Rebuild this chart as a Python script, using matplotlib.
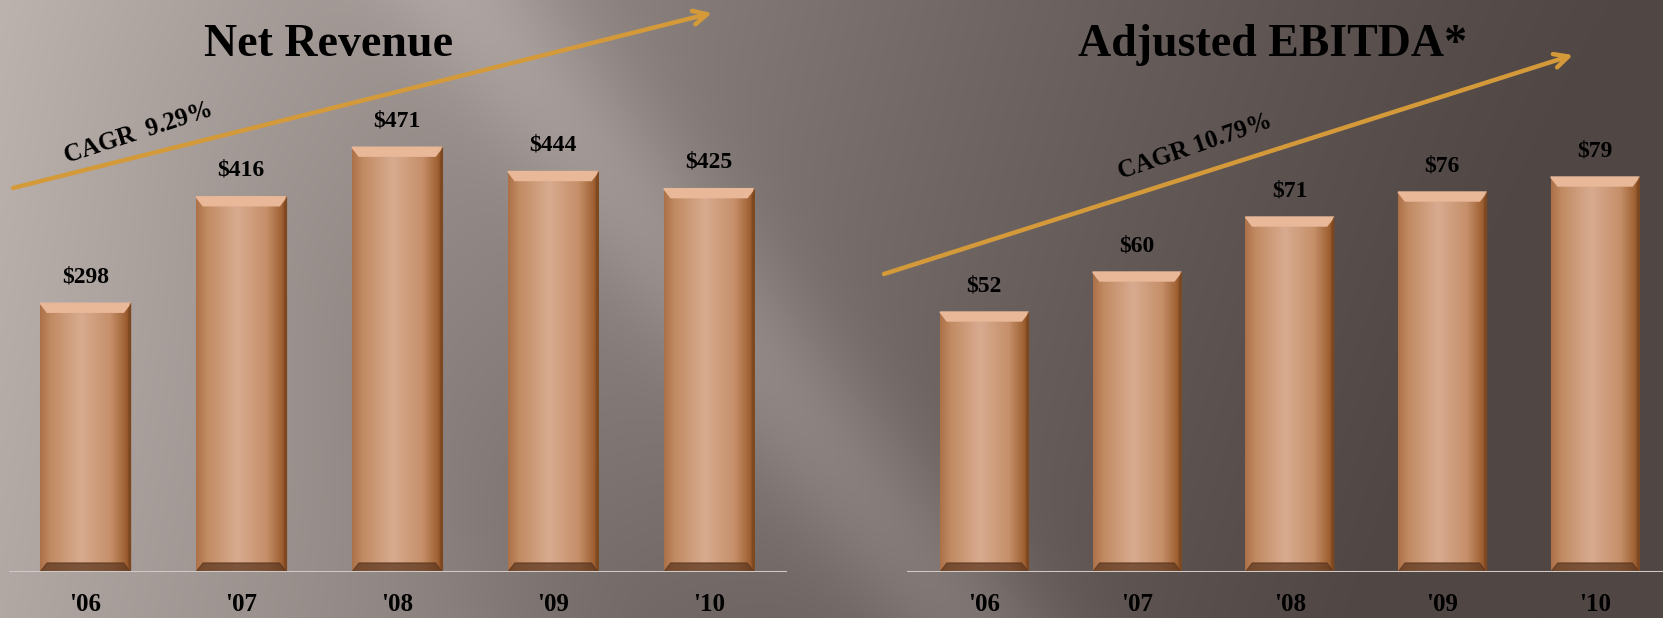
import numpy as np
import matplotlib.pyplot as plt
from matplotlib.patches import Polygon
from matplotlib.colors import LinearSegmentedColormap

# data
years = ["'06", "'07", "'08", "'09", "'10"]
net_revenue = [298, 416, 471, 444, 425]
adj_ebitda = [52, 60, 71, 76, 79]
revenue_labels = ['$298', '$416', '$471', '$444', '$425']
ebitda_labels = ['$52', '$60', '$71', '$76', '$79']
cagr_revenue = 'CAGR  9.29%'
cagr_ebitda = 'CAGR 10.79%'

W, H = 1663, 618
FONT = 'Liberation Serif'

fig = plt.figure(figsize=(W / 100, H / 100), dpi=100)


def fx(px):
    return px / W


def fy(py):
    return 1 - py / H


# background gradient with a light diagonal streak
ax_bg = fig.add_axes([0, 0, 1, 1])
ax_bg.axis('off')
xx, yy = np.meshgrid(np.arange(W), np.arange(H))
light = np.array([188, 178, 174])
dark = np.array([80, 71, 69])
f = np.clip(1 - xx / W, 0, 1) ** 1.35 - 0.1 * yy / H
f = np.clip(f, 0, 1)
img = dark + (light - dark) * f[..., None]
# streak
x0, y0, dx, dy = 470, 0, 400, 500
d = ((xx - x0) * dy - (yy - y0) * dx) / np.hypot(dx, dy)
img += 24 * np.exp(-(d / 75) ** 2)[..., None]
img -= 10 * np.exp(-((d + 260) / 120) ** 2)[..., None] * (yy / H)[..., None]
ax_bg.imshow(np.clip(img, 0, 255).astype(np.uint8), extent=(0, W, 0, H), aspect='auto')
ax_bg.set_xlim(0, W)
ax_bg.set_ylim(0, H)

bar_cmap = LinearSegmentedColormap.from_list('copper_bar', [
    (0.0, '#ad7148'), (0.12, '#c18b63'), (0.45, '#d8ab90'),
    (0.78, '#c58f69'), (0.95, '#9e6032'), (1.0, '#854b21')])


def draw_panel(rect, xlim, ylim, values, labels, px_x, px_y):
    ax = fig.add_axes(rect)
    ax.patch.set_alpha(0)
    bars = ax.bar(range(len(values)), values, width=0.58, color='#c08a62', zorder=2)
    grad = np.linspace(0, 1, 200).reshape(1, -1)
    bev_y = 9 / px_y
    bev_x = 7 / px_x
    for b, lab in zip(bars, labels):
        bx0, bx1, h = b.get_x(), b.get_x() + b.get_width(), b.get_height()
        ax.imshow(grad, cmap=bar_cmap, extent=(bx0, bx1, 0, h), aspect='auto', zorder=3)
        ax.add_patch(Polygon([(bx0, h), (bx1, h), (bx1 - bev_x, h - bev_y), (bx0 + bev_x, h - bev_y)],
                             closed=True, color='#e9b899', zorder=4))
        ax.add_patch(Polygon([(bx0, 0), (bx1, 0), (bx1 - bev_x, bev_y), (bx0 + bev_x, bev_y)],
                             closed=True, color='#5e3820', alpha=0.75, zorder=4))
        ax.add_patch(Polygon([(bx1, 0), (bx1, h), (bx1 - 2 / px_x, h - bev_y), (bx1 - 2 / px_x, bev_y)],
                             closed=True, color='#7a4620', alpha=0.6, zorder=4))
        ax.annotate(lab, (b.get_x() + b.get_width() / 2, h), xytext=(0, 19), textcoords='offset points',
                    ha='center', va='center', fontsize=17, fontweight='bold', family=FONT, color='black')
    ax.axhline(0, color='#cfcac8', lw=2.2, zorder=5)
    ax.set_xlim(*xlim)
    ax.set_ylim(*ylim)
    ax.set_xticks(range(len(values)))
    ax.set_xticklabels(years, fontsize=18, fontweight='bold', family=FONT)
    ax.tick_params(axis='x', length=0, pad=15)
    ax.set_yticks([])
    for s in ax.spines.values():
        s.set_visible(False)
    return ax


draw_panel([fx(8.5), fy(572), fx(787 - 8.5), 572 / H], (-0.493, 4.5), (0, 572 / 0.902),
           net_revenue, revenue_labels, 155.9, 0.902)
draw_panel([fx(907), fy(572), fx(1663 - 907), 572 / H], (-0.506, 4.445), (0, 572 / 5.0),
           adj_ebitda, ebitda_labels, 152.7, 5.0)

# titles
fig.text(fx(329), fy(45), 'Net Revenue', ha='center', va='center', fontsize=33,
         fontweight='bold', family=FONT, color='black')
fig.text(fx(1273), fy(45), 'Adjusted EBITDA*', ha='center', va='center', fontsize=33,
         fontweight='bold', family=FONT, color='black')

# CAGR arrows
arrow_kw = dict(arrowstyle='->,head_length=1.0,head_width=0.5', color='#d49a3a', lw=3.2,
                shrinkA=0, shrinkB=0)
ax_bg.annotate('', xy=(712, H - 13), xytext=(13, H - 188), xycoords='data', arrowprops=arrow_kw)
ax_bg.annotate('', xy=(1573, H - 55), xytext=(884, H - 274), xycoords='data', arrowprops=arrow_kw)

fig.text(fx(139), fy(133), cagr_revenue, ha='center', va='center', rotation=18, fontsize=18,
         fontweight='bold', family=FONT, color='black')
fig.text(fx(1195), fy(147), cagr_ebitda, ha='center', va='center', rotation=19, fontsize=18,
         fontweight='bold', family=FONT, color='black')

fig.savefig('out.png', dpi=100)
